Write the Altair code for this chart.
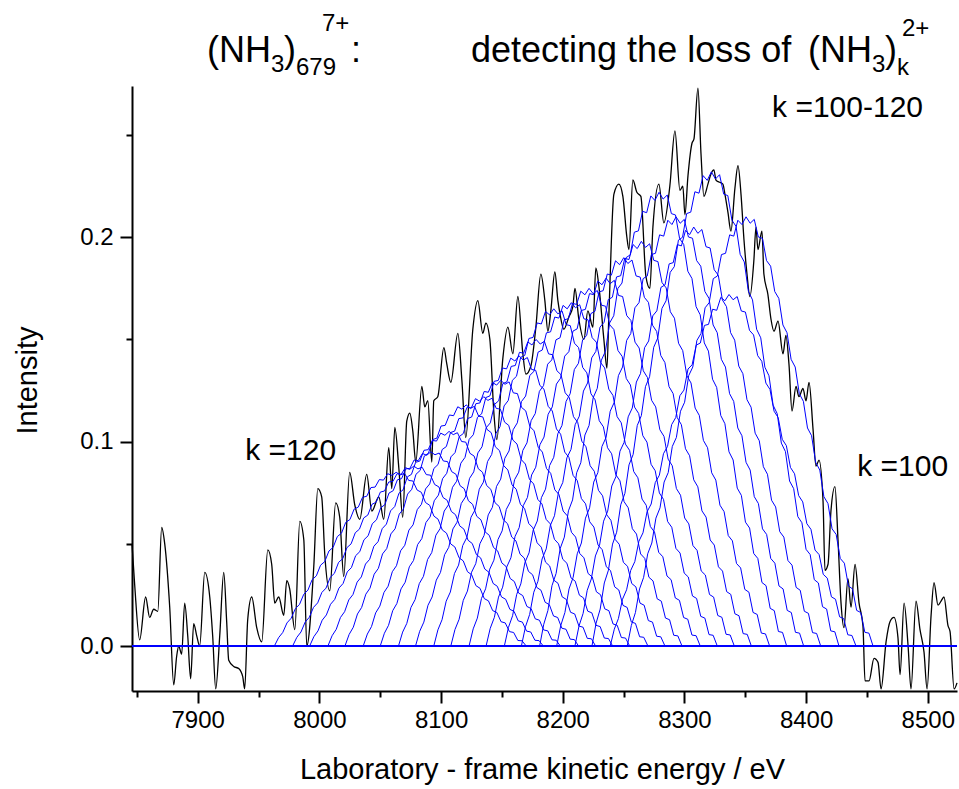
import altair as alt
import pandas as pd

# ---------------- data ----------------
# measured (black) spectrum
black_E = [7846.0, 7848.2, 7852.3, 7857.2, 7860.5, 7863.8, 7867.2, 7870.4, 7872.9, 7877.0,
           7880.3, 7882.7, 7884.4, 7886.8, 7889.3, 7891.8, 7894.2, 7896.7, 7899.2, 7901.6,
           7905.8, 7909.9, 7912.3, 7914.8, 7918.1, 7921.4, 7923.8, 7925.5, 7929.6, 7933.7,
           7937.0, 7938.6, 7941.1, 7944.4, 7948.5, 7952.6, 7957.6, 7960.8, 7963.3, 7966.6,
           7970.7, 7973.2, 7975.6, 7979.8, 7983.9, 7987.2, 7989.6, 7995.4, 7998.7, 8001.9,
           8004.4, 8008.5, 8013.4, 8016.7, 8020.0, 8024.9, 8029.1, 8033.2, 8038.9, 8043.1,
           8048.8, 8052.9, 8057.0, 8059.5, 8062.0, 8065.3, 8068.5, 8071.8, 8074.3, 8076.8,
           8079.2, 8084.2, 8086.6, 8089.1, 8092.4, 8094.0, 8097.3, 8102.3, 8104.7, 8108.0,
           8113.8, 8117.1, 8120.3, 8126.1, 8130.2, 8134.3, 8136.8, 8140.1, 8143.4, 8145.8,
           8150.8, 8154.9, 8159.0, 8163.1, 8167.2, 8169.7, 8173.8, 8177.9, 8182.0, 8185.3,
           8187.8, 8190.2, 8193.5, 8196.0, 8197.6, 8200.9, 8205.0, 8208.3, 8210.0, 8213.2,
           8217.4, 8220.6, 8224.8, 8227.2, 8229.7, 8233.8, 8236.3, 8237.9, 8242.0, 8246.1,
           8249.4, 8252.7, 8254.4, 8257.6, 8260.9, 8264.2, 8268.3, 8271.6, 8274.1, 8279.0,
           8283.1, 8288.0, 8292.2, 8296.3, 8298.7, 8300.4, 8302.9, 8306.2, 8307.8, 8311.1,
           8313.6, 8316.0, 8319.3, 8321.8, 8324.2, 8325.9, 8328.4, 8331.6, 8333.3, 8335.8,
           8338.2, 8341.5, 8344.0, 8346.5, 8348.9, 8351.4, 8353.8, 8357.1, 8358.8, 8360.4,
           8363.7, 8365.3, 8368.6, 8371.1, 8373.6, 8376.9, 8381.0, 8383.4, 8385.9, 8388.4,
           8391.7, 8394.1, 8397.4, 8399.9, 8402.4, 8405.7, 8408.1, 8410.6, 8413.9, 8415.5,
           8418.0, 8420.4, 8423.7, 8426.2, 8428.7, 8431.1, 8434.4, 8436.9, 8440.2, 8443.5,
           8446.7, 8448.4, 8451.7, 8455.8, 8459.1, 8461.6, 8465.7, 8469.0, 8472.2, 8475.5,
           8477.2, 8480.5, 8483.8, 8486.2, 8490.3, 8493.6, 8496.9, 8499.4, 8502.7, 8505.1,
           8508.4, 8510.9, 8513.3, 8516.6, 8518.3, 8521.6, 8524.0]
black_I = [0.050, 0.030, 0.003, 0.024, 0.014, 0.018, 0.017, 0.058, 0.050, 0.019,
           -0.019, -0.005, 0.000, -0.004, 0.021, 0.005, -0.016, 0.011, 0.005, 0.000,
           0.036, 0.024, 0.005, -0.021, 0.005, 0.036, 0.012, -0.007, -0.010, -0.011,
           -0.015, -0.021, 0.013, 0.024, 0.009, 0.002, 0.047, 0.040, 0.021, 0.024,
           0.015, 0.032, 0.028, 0.008, 0.061, 0.052, 0.000, 0.039, 0.077, 0.073,
           0.045, 0.027, 0.070, 0.063, 0.034, 0.085, 0.069, 0.062, 0.084, 0.066,
           0.073, 0.062, 0.097, 0.077, 0.107, 0.087, 0.063, 0.110, 0.114, 0.105,
           0.090, 0.127, 0.117, 0.120, 0.090, 0.120, 0.122, 0.146, 0.138, 0.129,
           0.153, 0.130, 0.102, 0.155, 0.169, 0.153, 0.158, 0.150, 0.114, 0.101,
           0.141, 0.156, 0.143, 0.171, 0.143, 0.133, 0.137, 0.156, 0.182, 0.169,
           0.154, 0.164, 0.183, 0.169, 0.163, 0.155, 0.161, 0.166, 0.175, 0.160,
           0.150, 0.164, 0.156, 0.185, 0.176, 0.150, 0.136, 0.162, 0.221, 0.226,
           0.220, 0.200, 0.194, 0.228, 0.222, 0.220, 0.181, 0.175, 0.205, 0.226,
           0.207, 0.225, 0.252, 0.223, 0.225, 0.211, 0.230, 0.246, 0.248, 0.273,
           0.241, 0.220, 0.226, 0.231, 0.233, 0.228, 0.227, 0.226, 0.221, 0.212,
           0.203, 0.224, 0.235, 0.221, 0.199, 0.182, 0.171, 0.189, 0.205, 0.194,
           0.203, 0.182, 0.172, 0.160, 0.154, 0.159, 0.143, 0.152, 0.138, 0.115,
           0.127, 0.122, 0.126, 0.120, 0.129, 0.106, 0.088, 0.091, 0.071, 0.037,
           0.040, 0.066, 0.078, 0.052, 0.021, 0.009, 0.033, 0.019, 0.040, 0.021,
           0.010, -0.017, -0.017, -0.006, -0.008, -0.021, 0.002, 0.012, 0.014, 0.004,
           -0.014, 0.021, 0.000, -0.021, 0.022, 0.008, -0.003, -0.021, 0.015, 0.031,
           0.020, 0.022, 0.024, 0.010, 0.007, -0.021, -0.018]

# model (blue) curves, one per k
k_values = [120, 119, 118, 117, 116, 115, 114, 113, 112, 111, 110,
            109, 108, 107, 106, 105, 104, 103, 102, 101, 100]
k_start = [7963, 7978, 7992, 8007, 8021, 8036, 8050, 8065, 8079, 8094, 8108,
           8123, 8137, 8152, 8166, 8181, 8195, 8210, 8224, 8239, 8253]
k_end = [8170, 8184, 8198, 8213, 8227, 8241, 8255, 8270, 8284, 8298, 8313,
         8327, 8341, 8355, 8370, 8384, 8398, 8412, 8427, 8441, 8455]
k_peak = [0.085, 0.088, 0.095, 0.105, 0.118, 0.122, 0.130, 0.142, 0.150, 0.165, 0.168,
          0.175, 0.180, 0.190, 0.198, 0.222, 0.210, 0.205, 0.232, 0.172, 0.210]
# shape of one model curve (relative to its peak), read across its width
profile = [0.000, 0.048, 0.078, 0.133, 0.160, 0.215, 0.240, 0.298, 0.322, 0.382,
           0.404, 0.465, 0.486, 0.547, 0.568, 0.630, 0.650, 0.712, 0.728, 0.788,
           0.800, 0.856, 0.862, 0.912, 0.915, 0.958, 0.955, 0.992, 0.982, 1.000,
           0.985, 0.994, 0.953, 0.950, 0.898, 0.885, 0.826, 0.810, 0.748, 0.730,
           0.668, 0.650, 0.588, 0.570, 0.508, 0.490, 0.428, 0.410, 0.348, 0.332,
           0.273, 0.260, 0.204, 0.193, 0.140, 0.133, 0.083, 0.078, 0.032, 0.030,
           0.000]

ann_text = ["k =100-120", "k =120", "k =100"]
ann_E = [8372, 7939, 8442]
ann_I = [0.259, 0.091, 0.083]

x_ticks = [7850, 7900, 7950, 8000, 8050, 8100, 8150, 8200, 8250, 8300,
           8350, 8400, 8450, 8500]
y_ticks = [0.0, 0.05, 0.1, 0.15, 0.2, 0.25]

# ---------------- tables ----------------
black = pd.DataFrame({"E": black_E, "I": black_I})
rows = []
n = len(profile) - 1
for k, s, e, a in zip(k_values, k_start, k_end, k_peak):
    for i, p in enumerate(profile):
        rows.append({"k": k, "E": s + (e - s) * i / n, "I": a * p})
blue = pd.DataFrame(rows)
ann = pd.DataFrame({"t": ann_text, "E": ann_E, "I": ann_I})

FONT = "Liberation Sans"
W, H = 825, 605
LEFT, TOP = 132, 86

xscale = alt.Scale(domain=[7846, 8524], nice=False, zero=False)
yscale = alt.Scale(domain=[-0.022, 0.274], nice=False, zero=False)

x_axis = alt.Axis(
    values=x_ticks,
    labelExpr="datum.value % 100 === 0 ? '' + datum.value : ''",
    tickSize={"condition": {"test": "datum.value % 100 === 0", "value": 12}, "value": 6},
    title="Laboratory - frame kinetic energy / eV",
    titleX=410, titleY=87, titleBaseline="alphabetic", titleAlign="center",
    labelPadding=5,
)
y_axis = alt.Axis(
    values=y_ticks,
    labelExpr="round(datum.value * 20) % 2 === 0 ? format(datum.value, '.1f') : ''",
    tickSize={"condition": {"test": "round(datum.value * 20) % 2 === 0", "value": 12}, "value": 6},
    title="Intensity",
    titleX=-105, titleY=294, titleAngle=270, titleAlign="center", titleBaseline="middle",
    labelPadding=7,
)

base_x = alt.X("E:Q", scale=xscale, axis=x_axis)
base_y = alt.Y("I:Q", scale=yscale, axis=y_axis)

black_line = alt.Chart(black).mark_line(color="black", strokeWidth=1.3,
                                        interpolate="monotone").encode(x=base_x, y=base_y)
blue_lines = alt.Chart(blue).mark_line(color="#0000ff", strokeWidth=1.0).encode(
    x=alt.X("E:Q"), y=alt.Y("I:Q"), detail="k:N")
baseline = alt.Chart(pd.DataFrame({"I": [0.0]})).mark_rule(color="#0000ff", strokeWidth=2).encode(
    y=alt.Y("I:Q"))
labels = alt.Chart(ann).mark_text(align="left", baseline="alphabetic", font=FONT,
                                  fontSize=30, color="black").encode(
    x=alt.X("E:Q"), y=alt.Y("I:Q"), text="t:N")

# title, built from pieces (text, left x, baseline y, size) in page pixels
title_pieces = [
    ("(NH", 207, 62, 36), ("3", 271, 72, 24), (")", 284, 62, 36), ("679", 296, 75, 24),
    ("7+", 322, 31, 24), (":", 351, 62, 36),
    ("detecting the loss of", 471, 62, 36),
    ("(NH", 808, 62, 36), ("3", 872, 72, 24), (")", 885, 62, 36), ("k", 897, 75, 24),
    ("2+", 902, 36, 24),
]
one = pd.DataFrame({"a": [0]})
title_layers = []
for txt, px, py, fs in title_pieces:
    title_layers.append(
        alt.Chart(one).mark_text(align="left", baseline="alphabetic", font=FONT,
                                 fontSize=fs, color="black").encode(
            x=alt.value(px - LEFT), y=alt.value(py - TOP), text=alt.value(txt))
    )

chart = alt.layer(black_line, blue_lines, baseline, labels, *title_layers).properties(
    width=W, height=H,
    padding={"left": LEFT, "top": TOP, "right": 959 - LEFT - W, "bottom": 789 - TOP - H},
    autosize=alt.AutoSizeParams(type="none"),
    background="white",
).configure_view(stroke=None).configure_axis(
    grid=False, domainColor="black", domainWidth=2, tickColor="black", tickWidth=2,
    labelFont=FONT, labelFontSize=24, labelColor="black",
    titleFont=FONT, titleFontSize=29, titleFontWeight="normal", titleColor="black",
)

chart.save("out.html", embed_options={"renderer": "svg", "actions": False})
